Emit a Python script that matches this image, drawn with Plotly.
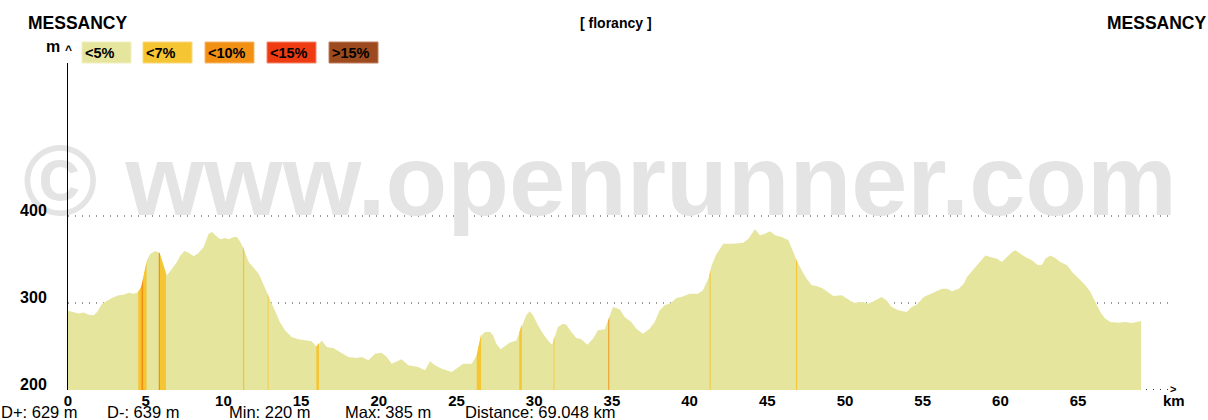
import plotly.graph_objects as go

# ---------------- data ----------------
dist_km = [0.0, 0.37, 0.69, 1.01, 1.33, 1.65, 1.87, 2.19, 2.83, 3.26, 3.58, 3.9, 4.22, 4.44, 4.65,
           4.76, 4.87, 4.98, 5.08, 5.3, 5.62, 5.88, 6.05, 6.26, 6.37, 6.69, 7.01, 7.23, 7.5, 7.77,
           8.09, 8.41, 8.73, 9.05, 9.27, 9.48, 9.8, 10.12, 10.34, 10.66, 10.88, 11.09, 11.3, 11.63,
           11.95, 12.27, 12.6, 12.87, 13.13, 13.32, 13.64, 13.96, 14.39, 14.82, 15.25, 15.68, 16.0,
           16.33, 16.65, 17.07, 17.5, 18.04, 18.58, 18.9, 19.33, 19.76, 20.19, 20.51, 20.83, 21.26,
           21.47, 21.9, 22.54, 22.97, 23.3, 23.62, 24.05, 24.69, 25.12, 25.44, 25.98, 26.3, 26.45,
           26.62, 26.83, 27.16, 27.35, 27.56, 27.84, 28.1, 28.42, 28.85, 29.07, 29.28, 29.49, 29.71,
           29.92, 30.24, 30.57, 30.89, 31.15, 31.32, 31.53, 31.85, 32.07, 32.39, 32.71, 33.03, 33.42,
           33.78, 34.11, 34.54, 34.79, 35.07, 35.5, 35.82, 36.25, 36.57, 37.0, 37.43, 37.75, 38.08,
           38.4, 38.82, 39.15, 39.47, 40.0, 40.54, 40.86, 41.2, 41.42, 41.74, 42.17, 42.81, 43.46,
           43.78, 44.21, 44.53, 44.85, 45.17, 45.5, 45.93, 46.36, 46.57, 46.89, 47.21, 47.53, 47.86,
           48.18, 48.6, 48.93, 49.25, 49.79, 50.11, 50.54, 51.18, 51.5, 51.93, 52.36, 52.68, 53.0,
           53.43, 53.97, 54.29, 54.61, 55.06, 55.39, 55.81, 56.24, 56.56, 56.89, 57.32, 57.64, 57.85,
           58.17, 58.49, 58.82, 59.03, 59.35, 59.78, 60.1, 60.42, 60.75, 60.96, 61.28, 61.6, 62.03,
           62.42, 62.68, 62.89, 63.21, 63.53, 63.85, 64.29, 64.61, 65.04, 65.47, 65.79, 66.11, 66.43,
           66.75, 67.08, 67.61, 68.04, 68.47, 68.9, 69.048]
elev_m = [291, 289, 288, 289, 286.5, 286, 289.7, 299, 305.7, 308.8, 309.6, 311.8, 310.7, 311.9, 316.5,
          322, 331.8, 341, 349, 356.7, 359.8, 357.8, 349, 335.6, 331.8, 339.4, 347, 354.7, 359.8, 357.8,
          353.6, 357.8, 364.4, 379.7, 381.6, 377.8, 373.2, 374.7, 373.2, 375.9, 375.9, 370, 362.4, 347,
          340.2, 333.7, 320.3, 309.6, 297.3, 291, 278, 268.6, 260.9, 258.2, 257, 256, 249.4,
          257, 249.4, 248.3, 243.7, 237.9, 236.8, 237.9, 234.1, 241.7, 242.9, 237.9, 230.3, 234.1,
          235.3, 228.4, 226.4, 222.6, 233, 228.4, 224.5, 220.7, 226.4, 230.2, 230.2, 239.9, 253.2,
          262.9, 266.7, 266.7, 262.9, 253.2, 246.7, 250.6, 254.4, 257, 266.7, 278, 285.8, 290.5,
          285.8, 274.4, 264.7, 257, 252.1, 260.9, 272.4, 276.2, 275.1, 266.7, 259.8, 258.2, 252.1,
          259, 268.6, 269.7, 282, 295.4, 292.7, 283.9, 278.2, 270.5, 264.7, 270.5, 278.2, 291.6,
          297.4, 300.3, 305.7, 306.9, 310.7, 310.7, 314.6, 328, 343.3, 356.7, 368.2, 368.2, 369.3,
          373.9, 384.7, 377.8, 379.7, 382.4, 377.8, 375.9, 372, 362.4, 349, 337.6, 328, 320.3,
          319.5, 316.5, 312.6, 308, 308.8, 304.9, 300.3, 301.1, 299.2, 303, 306.9, 303, 295.4,
          291.6, 289.7, 295.4, 298, 306.9, 309.6, 313.4, 316.5, 316.5, 313.4, 316.5, 322.2, 329.9,
          336.4, 343.3, 350.9, 354.7, 352.9, 350.9, 347.1, 352.9, 358.6, 360.6, 356.7, 352.9, 349.1,
          343.3, 344, 350.9, 354.7, 351.7, 347.1, 343.3, 335.6, 328, 320.3, 312.6, 301.1, 289.7,
          282, 278.2, 277.4, 278.2, 277, 278.2, 279.3]

# steep sections: start km, end km, elevation at start, elevation at end, gradient class
steep_start = [4.52, 4.72, 4.86, 5.84, 5.92, 11.26, 12.85, 15.98, 26.30, 29.04, 31.25, 34.77, 41.29, 46.85]
steep_end = [4.72, 4.86, 5.06, 5.92, 6.30, 11.34, 12.90, 16.15, 26.58, 29.20, 31.30, 34.83, 41.35, 46.92]
steep_top_start = [313, 319, 331, 358, 356, 365, 311, 250, 240, 266, 258, 280, 333, 351]
steep_top_end = [319, 331, 348, 357, 334, 360, 308, 254, 264, 276, 262, 284, 338, 347]
steep_class = ["<7%", "<10%", "<7%", "<10%", "<7%", "<7%", "<7%", "<7%", "<7%", "<7%", "<7%", "<10%", "<7%", "<7%"]

grade_labels = ["<5%", "<7%", "<10%", "<15%", ">15%"]
grade_colors = ["#E5E59D", "#F5C534", "#F29013", "#EE3B12", "#9C4A1E"]
grade_borders = ["#F0F0C0", "#F8DA80", "#F6B870", "#F48A70", "#C08060"]

x_ticks = list(range(0, 70, 5))
y_ticks = [200, 300, 400]

start_name = "MESSANCY"
end_name = "MESSANCY"
route_name = "[ florancy ]"
stats_text = ["D+: 629 m", "D-: 639 m", "Min: 220 m", "Max: 385 m", "Distance: 69.048 km"]
watermark = "© www.openrunner.com"

# ---------------- layout helpers (pixels -> paper) ----------------
W, H = 1208, 420
L, R, T, B = 68, 39, 63, 30
PW, PH = W - L - R, H - T - B


def px(x):
    return (x - L) / PW


def py(y):
    return (H - B - y) / PH


SANS = "Liberation Sans, Arial, sans-serif"
color_of = dict(zip(grade_labels, grade_colors))

fig = go.Figure()

# watermark (drawn first so that the profile covers it)
fig.add_trace(go.Scatter(
    x=[34.23], y=[430], mode="text", text=[watermark],
    textfont=dict(family=SANS, size=101, color="#E4E4E4", weight="bold"),
    textposition="middle center", hoverinfo="skip", showlegend=False, cliponaxis=False))

# profile area (<5 %)
fig.add_trace(go.Scatter(
    x=dist_km, y=elev_m, mode="lines", line=dict(width=0, color=grade_colors[0]),
    fill="tozeroy", fillcolor=grade_colors[0], hoverinfo="skip", showlegend=False))

# steeper sections
for s, e, ts, te, c in zip(steep_start, steep_end, steep_top_start, steep_top_end, steep_class):
    fig.add_trace(go.Scatter(
        x=[s, s, e, e, s], y=[200, ts, te, 200, 200], mode="lines",
        line=dict(width=0, color=color_of[c]), fill="toself", fillcolor=color_of[c],
        hoverinfo="skip", showlegend=False))

shapes = []
for yv in y_ticks:
    off = 0.6 if yv == 200 else 0
    shapes.append(dict(type="line", xref="x", yref="y", x0=0, x1=70.85, y0=yv + off, y1=yv + off,
                       line=dict(color="#333333", width=1, dash="1px,6px"), layer="below"))

annotations = []
# legend boxes
box_left = [82, 143, 205, 267, 329]
for lbl, col, bcol, bx in zip(grade_labels, grade_colors, grade_borders, box_left):
    shapes.append(dict(type="rect", xref="paper", yref="paper", x0=px(bx), x1=px(bx + 49),
                       y0=py(63), y1=py(42), fillcolor=col, line=dict(color=bcol, width=1)))
    annotations.append(dict(xref="paper", yref="paper", x=px(bx + 1), y=py(52.5), text=lbl,
                            showarrow=False, xanchor="left", yanchor="middle",
                            font=dict(family=SANS, size=14.5, color="black", weight="bold")))

# titles
annotations.append(dict(xref="paper", yref="paper", x=px(26), y=py(23), text=start_name, showarrow=False,
                        xanchor="left", yanchor="middle",
                        font=dict(family=SANS, size=17.5, color="black", weight="bold")))
annotations.append(dict(xref="paper", yref="paper", x=px(1209), y=py(23), text=end_name, showarrow=False,
                        xanchor="right", yanchor="middle",
                        font=dict(family=SANS, size=17.5, color="black", weight="bold")))
annotations.append(dict(xref="paper", yref="paper", x=px(616), y=py(23), text=route_name, showarrow=False,
                        xanchor="center", yanchor="middle",
                        font=dict(family=SANS, size=14, color="black", weight="bold")))
# axis units
annotations.append(dict(xref="paper", yref="paper", x=px(62), y=py(46), text="m", showarrow=False,
                        xanchor="right", yanchor="middle",
                        font=dict(family=SANS, size=16, color="black", weight="bold")))
annotations.append(dict(xref="paper", yref="paper", x=px(68), y=py(50), text="^", showarrow=False,
                        xanchor="center", yanchor="middle",
                        font=dict(family=SANS, size=12, color="black", weight="bold")))
annotations.append(dict(xref="paper", yref="paper", x=px(1173), y=py(389), text=">", showarrow=False,
                        xanchor="center", yanchor="middle",
                        font=dict(family=SANS, size=11, color="black", weight="bold")))
annotations.append(dict(xref="paper", yref="paper", x=px(1174), y=py(400), text="km", showarrow=False,
                        xanchor="center", yanchor="middle",
                        font=dict(family=SANS, size=15, color="black", weight="bold")))
# statistics
stat_left = [-1, 105, 227, 343, 463]
for t, sx in zip(stats_text, stat_left):
    annotations.append(dict(xref="paper", yref="paper", x=px(sx), y=py(412), text=t, showarrow=False,
                            xanchor="left", yanchor="middle",
                            font=dict(family=SANS, size=16.5, color="black")))

fig.update_layout(
    width=W, height=H, margin=dict(l=L, r=R, t=T, b=B, autoexpand=False),
    paper_bgcolor="white", plot_bgcolor="white", showlegend=False,
    shapes=shapes, annotations=annotations,
    xaxis=dict(range=[0, PW / 15.54], showgrid=False, zeroline=False, showline=False,
               tickvals=x_ticks, ticks="", ticklabelstandoff=0, automargin=False,
               tickfont=dict(family=SANS, size=15, color="black", weight="bold")),
    yaxis=dict(range=[200, 200 + PH / 0.87], showgrid=False, zeroline=False, showline=True,
               linecolor="black", linewidth=1, tickvals=y_ticks, ticks="", automargin=False,
               ticklabelshift=-6, ticklabelstandoff=17,
               tickfont=dict(family=SANS, size=16, color="black", weight="bold")),
)

fig.write_html("out.html", config={"displayModeBar": False},
               post_script="document.body.style.margin='0';document.body.style.overflow='hidden';")
